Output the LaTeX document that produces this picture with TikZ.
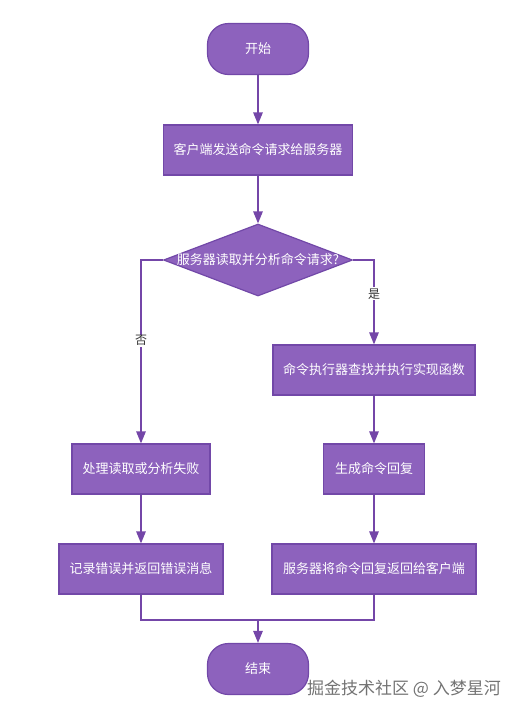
\documentclass[tikz,border=0pt]{standalone}
\usepackage{fontspec}
\setmainfont{Noto Sans CJK SC}
\usetikzlibrary{shapes.geometric,arrows.meta}
\definecolor{boxfill}{HTML}{8D62BD}
\definecolor{boxline}{HTML}{7248A8}
\definecolor{flowline}{HTML}{7446A8}
\tikzset{
  terminal/.style={draw=boxline, fill=boxfill, line width=1.2pt, rounded corners=21pt,
    minimum width=101pt, minimum height=51pt, text=white, font=\fontsize{13}{15}\selectfont},
  process/.style={draw=boxline, fill=boxfill, line width=1.2pt,
    minimum height=50pt, text=white, font=\fontsize{13}{15}\selectfont},
  decision/.style={diamond, draw=boxline, fill=boxfill, line width=1.2pt,
    minimum width=189pt, minimum height=72pt, inner sep=0pt},
  flow/.style={draw=flowline, line width=1.3pt, -{Triangle[length=12pt,width=9.5pt]}},
  joinline/.style={draw=flowline, line width=1.3pt},
  branchlabel/.style={fill=white, inner sep=1pt, text=black!80, font=\fontsize{12}{14}\selectfont}
}
\begin{document}
\begin{tikzpicture}[x=1pt, y=-1pt]
    \useasboundingbox (0,0) rectangle (526,716);

    \node[terminal] (start) at (258,49) {开始};
    \node[process, minimum width=189pt] (send) at (258,150) {客户端发送命令请求给服务器};
    \node[decision] (check) at (258,260) {};
    \node[text=white, font=\fontsize{13}{15}\selectfont] (checktext) at (258,260) {服务器读取并分析命令请求?};
    \node[process, minimum width=202pt] (exec) at (374,370) {命令执行器查找并执行实现函数};
    \node[process, minimum width=138pt] (fail) at (141,469) {处理读取或分析失败};
    \node[process, minimum width=101pt] (reply) at (374,469) {生成命令回复};
    \node[process, minimum width=164pt] (logerr) at (141,569) {记录错误并返回错误消息};
    \node[process, minimum width=204pt] (back) at (374,569) {服务器将命令回复返回给客户端};
    \coordinate (merge) at (258,620);
    \node[terminal] (stop) at (258,669) {结束};

    \draw[flow] (start) -- (send);
    \draw[flow] (send) -- (check);
    \draw[flow] (check.west) -| node[branchlabel, pos=0.72]{否} (fail.north);
    \draw[flow] (check.east) -| node[branchlabel, pos=0.7]{是} (exec.north);
    \draw[flow] (exec) -- (reply);
    \draw[flow] (fail) -- (logerr);
    \draw[flow] (reply) -- (back);
    \draw[joinline] (logerr.south) |- (merge);
    \draw[joinline] (back.south) |- (merge);
    \draw[flow] (merge) -- (stop);

    % watermark
    \node[text=black!55, font=\fontsize{17}{19}\selectfont, anchor=west, inner sep=0pt] (mark) at (307,689) {掘金技术社区 @ 入梦星河};
\end{tikzpicture}
\end{document}
